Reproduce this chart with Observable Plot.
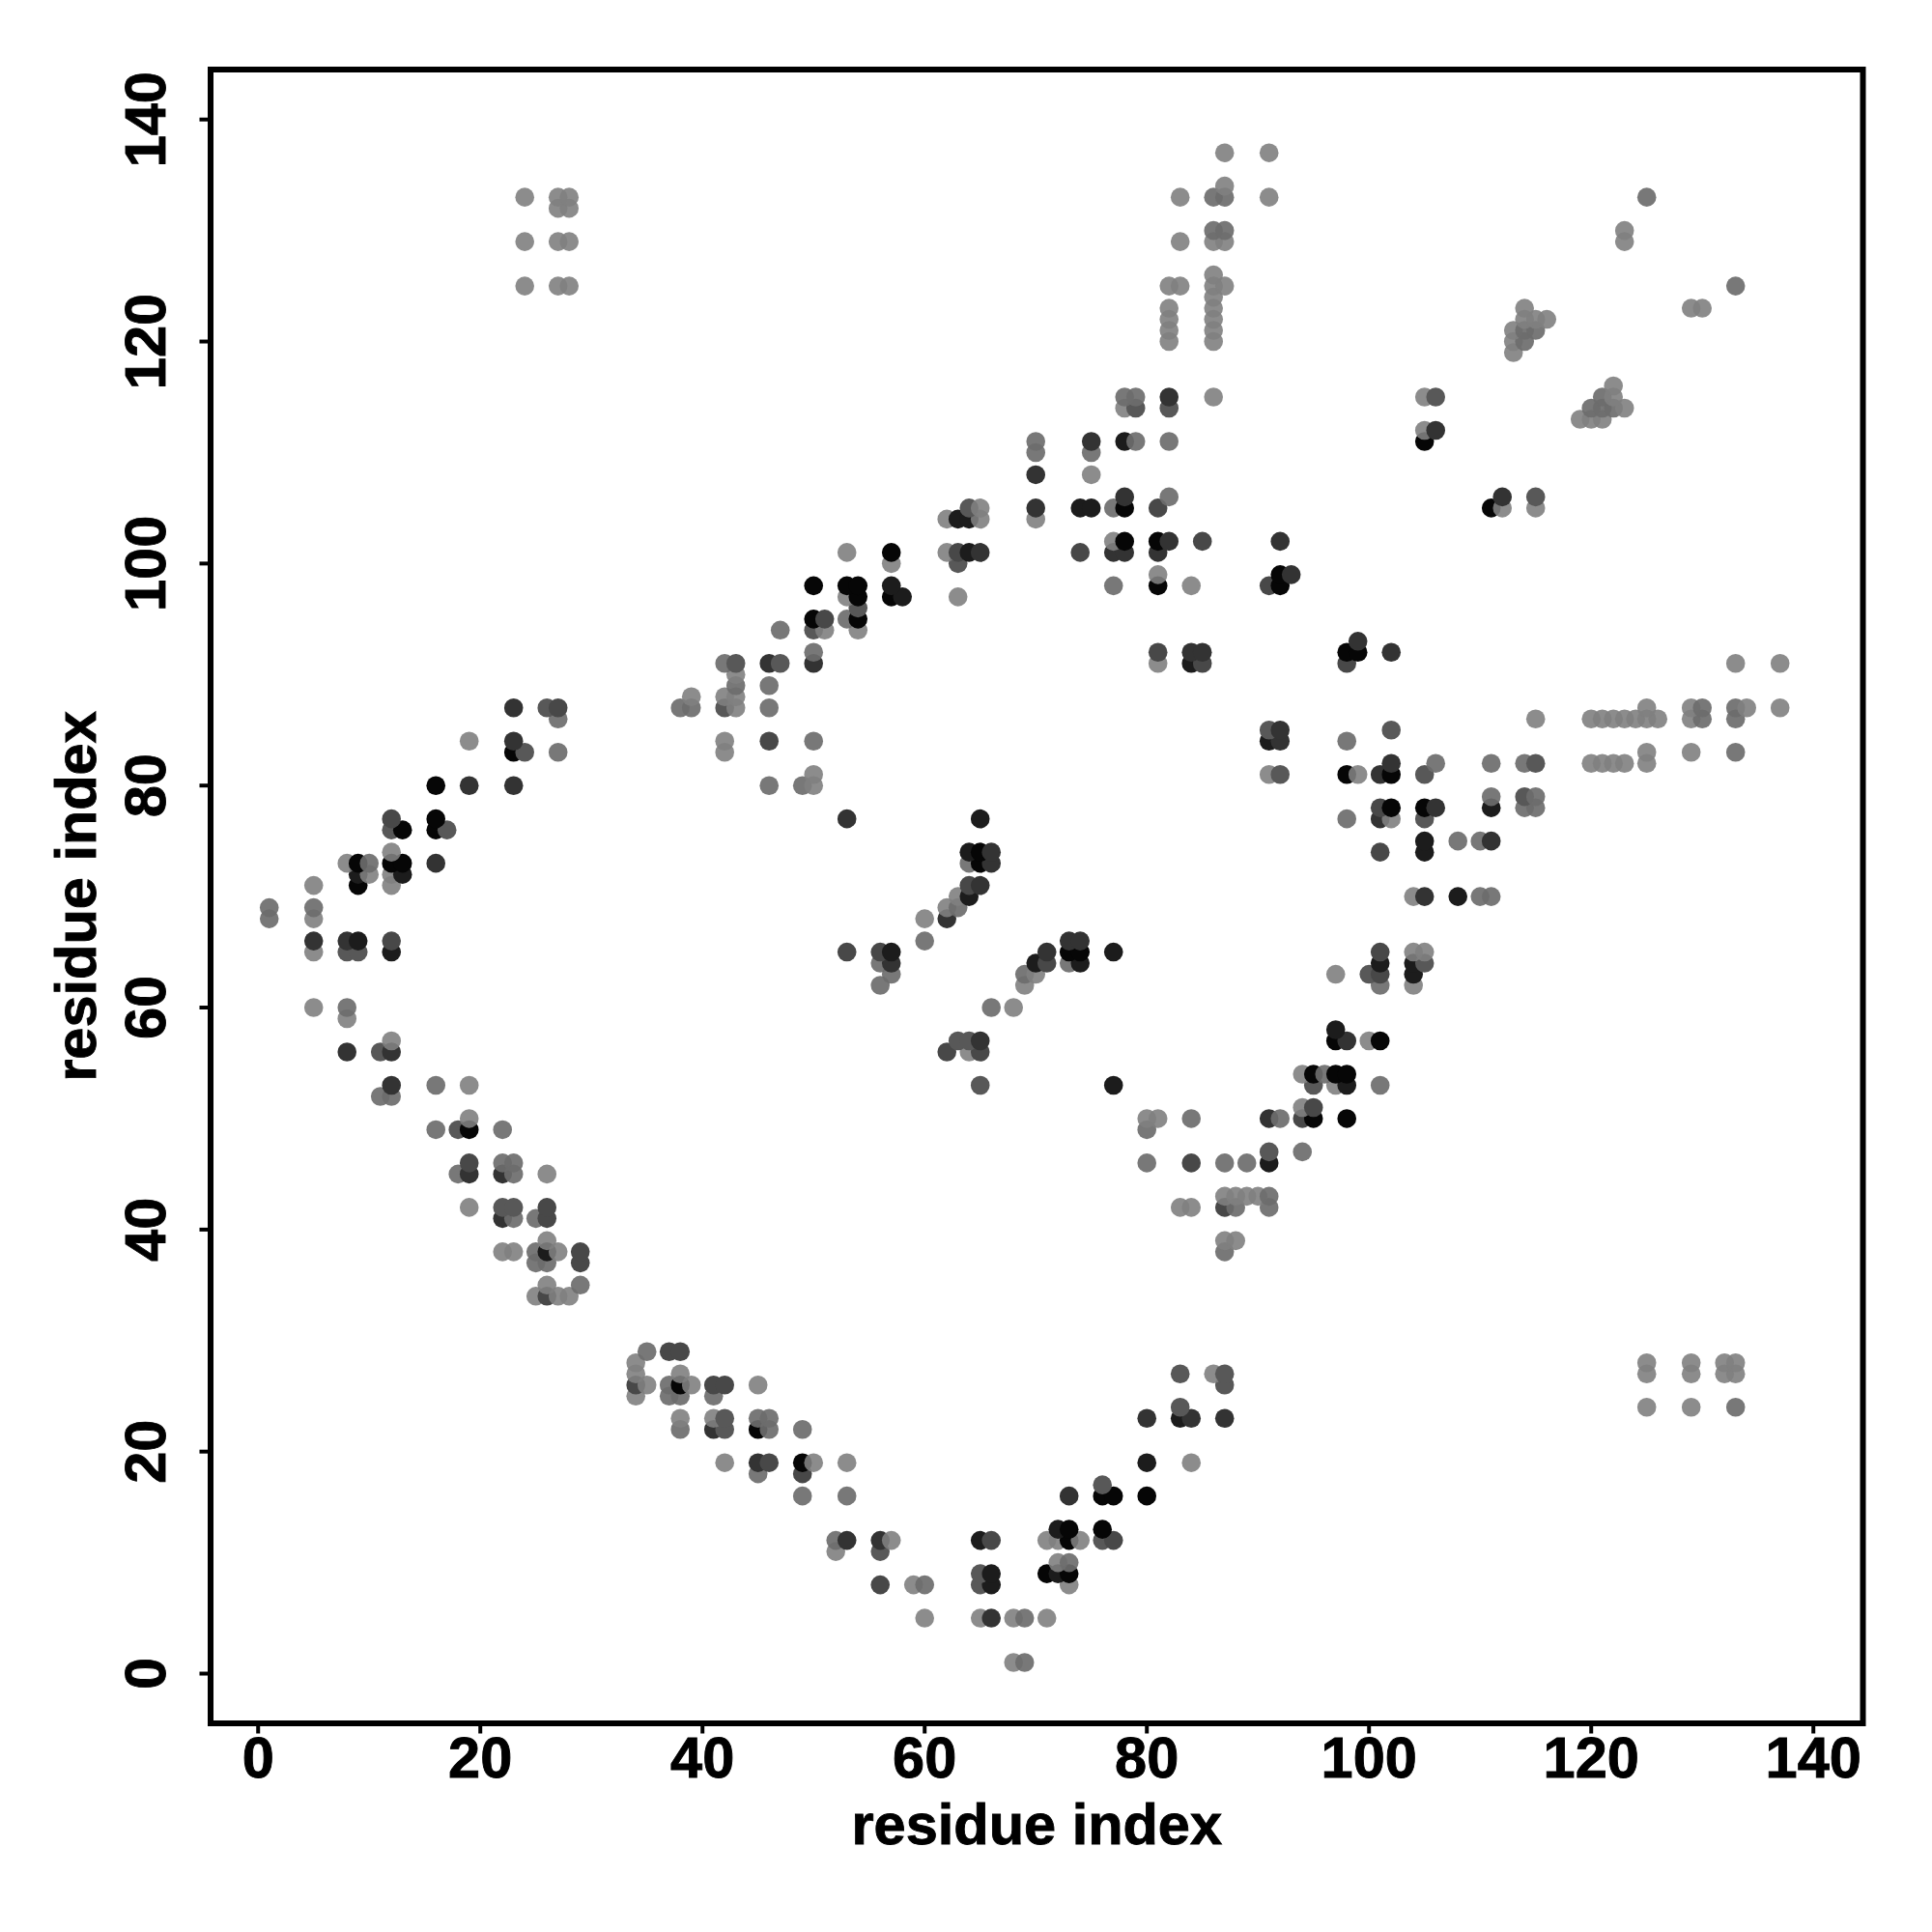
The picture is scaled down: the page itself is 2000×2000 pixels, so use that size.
<!DOCTYPE html>
<html>
<head>
<meta charset="utf-8">
<style>html,body{margin:0;padding:0;background:#fff}svg{display:block}svg text{stroke:#000;stroke-width:0.9px}</style>
<script src="https://cdn.jsdelivr.net/npm/d3@7"></script>
<script src="https://cdn.jsdelivr.net/npm/@observablehq/plot@0.6"></script>
</head>
<body>
<script>
const xLabel = "residue index";
const yLabel = "residue index";
const ticks = [0, 20, 40, 60, 80, 100, 120, 140];

// [residue x, residue y] grouped by how dark the contact dot is
const light = [[24,133],[24,129],[24,125],[27,133],[28,133],[27,132],[28,132],[27,129],[28,129],[27,125],[28,125],
[5,71],[5,68],[5,65],[5,60],[8,73],[8,59],[10,72],[12,74],[12,72],[12,71],[12,57],[19,84],[19,53],[19,50],[19,42],
[22,38],[23,38],[26,45],[26,39],[27,38],[25,34],[26,35],[27,34],[28,34],[34,28],[34,27],[34,25],[35,26],[38,27],[39,26],[38,23],
[41,23],[45,26],[42,19],[50,19],[53,19],[52,11],[57,12],[59,8],[60,5],[65,5],[68,5],[71,5],[68,1],[71,12],[72,12],[72,10],[73,8],[74,12],[84,19],[86,27],
[80,50],[81,50],[83,42],[84,42],[88,43],[87,39],[88,39],[89,43],[90,43],[87,43],[94,51],[94,54],[97,53],[100,57],[97,63],[104,65],[105,65],[104,62],
[69,62],[70,63],[68,60],[60,68],[39,88],[43,90],[43,88],[43,87],[42,88],[42,84],[42,83],[50,80],[50,81],[51,94],[53,97],[54,94],[53,101],[57,100],
[62,104],[62,101],[63,97],[65,105],[65,104],[70,104],[75,108],[87,137],[91,137],[87,134],[91,133],[83,133],[83,129],[86,129],[87,129],[86,126],[82,125],[83,125],[87,125],[86,125],[86,124],
[82,123],[82,122],[82,121],[82,120],[86,123],[86,122],[86,121],[86,120],[86,115],[78,114],[77,102],[81,99],[81,91],[84,98],[99,81],[102,77],[91,81],[105,115],[105,112],[112,105],[115,105],[115,86],[104,70],
[120,86],[121,86],[122,86],[123,86],[124,86],[125,86],[126,86],[125,87],[129,87],[129,86],[129,83],[125,83],[125,82],[120,82],[121,82],[122,82],[123,82],[134,87],[137,91],[137,87],[133,91],
[125,28],[125,27],[125,24],[129,28],[129,27],[129,24],[132,28],[132,27],[133,28],[133,27],[123,130],[123,129],[129,123],[130,123],[113,121],[113,120],[113,119],[114,123],[116,122],[119,113],[120,113],[122,116],[123,114],[121,113],[115,122],[114,122],[122,115],
[62,69],[63,70],[64,56]];

const mid = [[1,69],[1,68],[5,69],[8,60],[10,73],[11,52],[12,52],[16,53],[16,49],[22,49],[22,46],[23,46],[23,45],[23,41],[18,45],[25,41],[25,38],[25,37],[26,37],[29,35],[35,29],[37,26],[37,25],[38,25],[41,25],[38,22],[45,23],[46,23],[46,22],[45,18],[49,22],[49,16],[53,16],[52,12],[69,5],[69,1],[60,8],[73,10],
[27,86],[27,83],[38,87],[39,87],[42,91],[43,89],[46,89],[46,87],[46,80],[47,94],[49,80],[50,92],[50,84],[53,95],
[80,49],[80,46],[84,50],[87,46],[89,46],[94,47],[88,42],[91,42],[87,38],[92,50],[96,54],[101,53],[101,62],[69,63],[66,60],[60,66],[63,69],[73,64],[64,73],[56,64],
[70,111],[70,110],[75,110],[78,115],[79,115],[79,111],[82,111],[77,105],[77,98],[82,106],[98,84],[98,77],[106,82],[111,82],[114,82],[111,79],[115,79],[114,78],[115,78],[108,75],[110,75],[110,70],[111,70],
[125,133],[133,125],[133,24],[133,83],[133,87],[133,86],[130,87],[130,86],[114,121],[114,120],[115,121],[120,114],[121,115],[121,114],[122,114],[86,133],[87,133],[86,130],[87,130],[91,43],[57,63],[56,62]];

const midDark = [[8,65],[9,65],[11,56],[17,76],[18,49],[24,83],[26,87],[42,87],[43,91],[47,91],[56,11],[65,9],[65,8],[76,12],[83,24],[76,17],[83,27],[87,27],[87,26],[42,23],[42,22],[22,42],[23,42],[12,76],
[50,94],[54,96],[63,100],[64,105],[82,114],[79,114],[91,47],[92,81],[91,85],[102,85],[105,81],[105,77],[114,79],[115,106],[115,82],[106,115],[100,63],[105,64],[95,53],[65,53],[63,57],[64,57]];

const darkMid = [[12,77],[12,66],[27,87],[26,42],[26,41],[29,38],[29,37],[37,29],[38,29],[34,26],[41,26],[42,26],[26,34],[19,46],[49,18],[46,19],[77,12],[66,12],[56,8],[51,95],[46,84],[63,101],[74,101],[85,102],[91,98],[81,92],[85,91],
[95,51],[87,42],[94,50],[84,46],[101,65],[101,63],[71,64],[64,71],[81,105],[101,78],[101,74],[98,91],[53,65],[62,56],[65,56],[56,65]];

const dark = [[5,66],[8,66],[8,56],[12,56],[12,53],[16,73],[19,80],[23,87],[23,84],[23,80],[19,45],[22,41],[22,45],[41,22],[45,19],[56,12],[53,12],[66,5],[80,23],[84,23],[87,23],[73,16],[46,91],[53,77],[50,91],[62,68],[65,71],[66,74],[66,73],[70,108],[70,105],[65,101],[73,66],[74,66],[71,65],
[78,106],[82,102],[78,101],[77,101],[81,101],[92,102],[93,99],[84,92],[85,92],[92,84],[92,85],[102,82],[101,81],[106,78],[111,75],[105,70],[112,106],[106,112],[75,111],[82,115],[91,50],[99,93],[102,92],[101,77],[98,57],[57,64],[65,57]];

const veryDark = [[9,72],[9,66],[12,65],[13,72],[26,38],[72,9],[72,13],[65,12],[66,9],[66,8],[80,19],[83,23],[64,104],[63,104],[64,74],[64,70],[64,101],[74,105],[75,105],[78,111],[57,98],[58,97],[70,64],[74,64],[77,65],[77,53],[91,84],[84,91],[105,75],[105,74],[108,70],[111,78],[91,46],[98,53],[97,58],[104,64],[104,63],[65,77],[57,65],[101,64]];

const black = [[9,73],[9,71],[12,73],[13,76],[13,73],[16,80],[16,77],[16,76],[19,49],[23,83],[38,26],[45,22],[49,19],[71,9],[73,13],[73,12],[73,9],[76,16],[77,16],[76,13],[80,16],
[50,98],[50,95],[53,98],[54,98],[54,97],[54,95],[57,101],[57,97],[65,74],[65,73],[73,65],[74,65],[78,105],[78,102],[81,102],[81,98],[92,99],[92,98],[98,92],[99,92],[102,81],[98,81],[102,78],[105,78],[101,57],[97,57],[97,54],[95,54],[95,50],[98,50],[98,54],[105,111],[111,105]];

const shades = [
  [light,    "#7f7f7f", 0.9],
  [mid,      "#6c6c6c", 0.92],
  [midDark,  "#585858", 1],
  [darkMid,  "#484848", 1],
  [dark,     "#333333", 1],
  [veryDark, "#1c1c1c", 1],
  [black,    "#060606", 1]
];

const contacts = d3.sort(
  shades.flatMap(([pts, fill, op]) => pts.map(([x, y]) => ({x, y, fill, op}))),
  d => d.y, d => d.x
);

const font = "'Liberation Sans', Arial, sans-serif";

const chart = Plot.plot({
  width: 2000,
  height: 2000,
  marginLeft: 217.5,
  marginRight: 72,
  marginTop: 71.5,
  marginBottom: 216.5,
  style: {fontFamily: font, fontWeight: "bold", background: "#fff", overflow: "visible"},
  x: {domain: [-4.28, 144.46]},
  y: {domain: [-4.48, 144.5]},
  opacity: {type: "identity"},
  marks: [
    Plot.dot(contacts, {x: "x", y: "y", r: 9.8, fill: d => d.fill, fillOpacity: d => d.op, stroke: "none"}),
    Plot.frame({stroke: "#000", strokeWidth: 6}),
    Plot.axisX({ticks, tickSize: 11, tickPadding: 3, strokeWidth: 4, fontSize: 59.5, label: xLabel, labelAnchor: "center", labelArrow: "none", labelOffset: 125}),
    Plot.axisY({ticks, tickSize: 11, tickPadding: 36, strokeWidth: 4, fontSize: 59.5, tickRotate: -90, textAnchor: "middle", label: yLabel, labelAnchor: "center", labelArrow: "none", labelOffset: 161}),
  ]
});
document.body.appendChild(chart);
</script>
</body>
</html>
